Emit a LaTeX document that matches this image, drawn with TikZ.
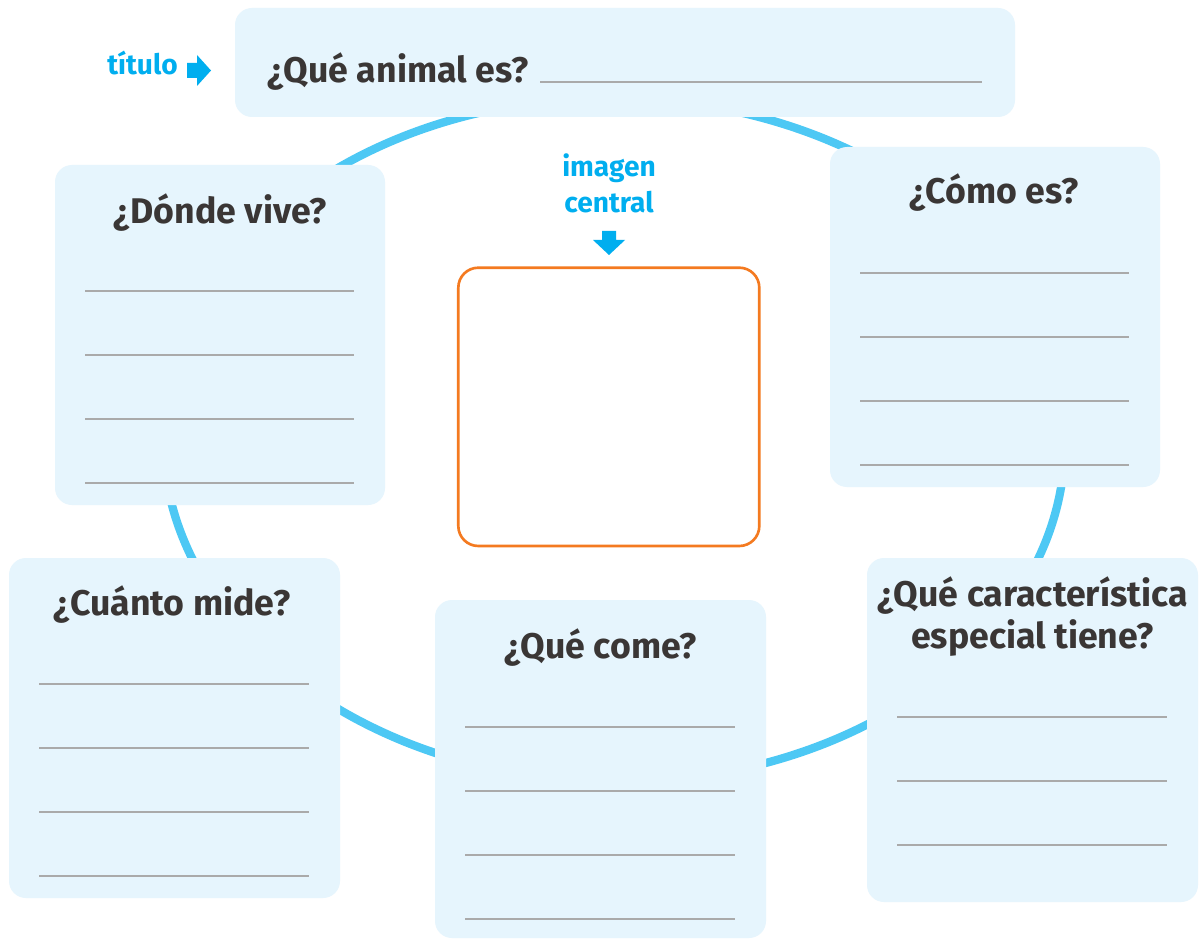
\documentclass[tikz,border=0pt]{standalone}
\usepackage{fontspec}
\setmainfont{Fira Sans}
\definecolor{boxbg}{RGB}{230,245,253}
\definecolor{ringc}{RGB}{77,200,244}
\definecolor{qtext}{RGB}{58,54,53}
\definecolor{lbl}{RGB}{0,174,239}
\definecolor{orng}{RGB}{244,122,32}
\definecolor{rulec}{RGB}{170,170,170}
\begin{document}
\begin{tikzpicture}[x=0.02cm,y=-0.02cm,
  panel/.style={fill=boxbg, rounded corners=0.34cm},
  ruleline/.style={draw=rulec, line width=1.1pt},
  question/.style={text=qtext, font=\bfseries\fontsize{20.3}{24}\selectfont, anchor=base, inner sep=0pt},
  tag/.style={text=lbl, font=\bfseries\fontsize{16}{19}\selectfont, anchor=base, inner sep=0pt},
  pointer/.style={fill=lbl}
]
\useasboundingbox[fill=white] (0,0) rectangle (1200,939);
% ring
\draw[ringc, line width=4.7pt, rotate around={-0.8:(614,440)}] (614,440) ellipse [x radius=9.02cm, y radius=6.84cm];
% title
\fill[panel] (235,8) rectangle (1015,117);
\node[question, anchor=base west] (qtitle) at (267,83) {¿Qué animal es?};
\coordinate (tl1) at (540,82);
\coordinate (tl2) at (982,82);
\draw[ruleline] (tl1) -- (tl2);
\node[tag, anchor=base east] (ttitulo) at (178,75) {título};
\fill[pointer] (187,63) -- (197,63) -- (197,55) -- (211,70.5) -- (197,86) -- (197,78) -- (187,78) -- cycle;
% central image
\node[tag] (timg1) at (609,177) {imagen};
\node[tag] (timg2) at (609,212.5) {central};
\fill[pointer] (602,231) -- (616,231) -- (616,240) -- (625,240) -- (609,255) -- (593,240) -- (602,240) -- cycle;
\draw[orng, line width=1.5pt, rounded corners=0.4cm] (458.3,267.7) rectangle (759.3,546);
% Donde vive
\fill[panel] (55,165) rectangle (385,505);
\node[question] (qdonde) at (220,224) {¿Dónde vive?};
\foreach \k in {126,190,254,318} \draw[ruleline] (85,165+\k) -- (354,165+\k);
% Como es
\fill[panel] (830,147) rectangle (1160,487);
\node[question] (qcomo) at (994,204) {¿Cómo es?};
\foreach \k in {126,190,254,318} \draw[ruleline] (860,147+\k) -- (1129,147+\k);
% Cuanto mide
\fill[panel] (9,558) rectangle (340,898);
\node[question] (qcuanto) at (172,615) {¿Cuánto mide?};
\foreach \k in {126,190,254,318} \draw[ruleline] (39,558+\k) -- (309,558+\k);
% Que come
\fill[panel] (435,600) rectangle (766,938);
\node[question] (qcome) at (600.5,658) {¿Qué come?};
\foreach \k in {126.7,190.7,254.7,318.7} \draw[ruleline] (465,600+\k) -- (735,600+\k);
% Caracteristica
\fill[panel] (867,558) rectangle (1198,902);
\node[question] (qcar1) at (1032.5,606) {¿Qué característica};
\node[question] (qcar2) at (1032.5,648) {especial tiene?};
\foreach \k in {158.7,222.7,286.7} \draw[ruleline] (897,558+\k) -- (1167,558+\k);
\end{tikzpicture}
\end{document}
